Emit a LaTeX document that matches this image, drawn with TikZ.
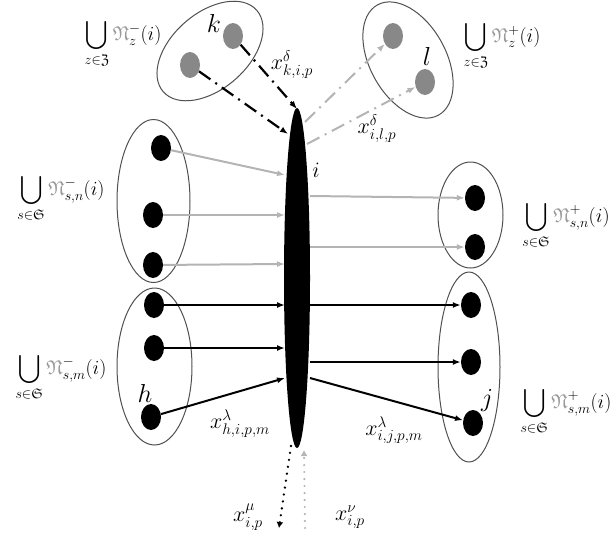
\RequirePackage{fix-cm}
\documentclass[tikz,border=0pt]{standalone}
\usepackage{amsmath,amssymb}
\usetikzlibrary{shapes.geometric,arrows.meta}
\definecolor{lgray}{HTML}{B4B4B4}
\definecolor{dotgray}{HTML}{888888}
\definecolor{ngray}{HTML}{9A9A9A}
\definecolor{rimgray}{HTML}{505050}
\newcommand{\Nfr}{\textcolor{ngray}{\mathfrak{N}}}
\begin{document}
\begin{tikzpicture}[x=1pt,y=-1pt,
  grp/.style={draw=rimgray,line width=1pt,ellipse,inner sep=0pt},
  bdot/.style={fill=black,ellipse,minimum width=20pt,minimum height=26pt,inner sep=0pt},
  gdot/.style={fill=dotgray,ellipse,minimum width=20pt,minimum height=26pt,inner sep=0pt},
  blk/.style={line width=2pt,-{Latex[length=8pt,width=6pt]}},
  gry/.style={line width=2pt,lgray,-{Latex[length=8pt,width=6pt]}},
  bdd/.style={line width=2.2pt,dash pattern=on 14pt off 6pt on 2pt off 6pt,-{Latex[length=8pt,width=6pt]}},
  gdd/.style={line width=2pt,lgray,dash pattern=on 14pt off 6pt on 2pt off 6pt,-{Latex[length=8pt,width=6pt]}},
  bdots/.style={line width=2.6pt,line cap=round,dash pattern=on 0pt off 7pt,-{Latex[length=6pt,width=7pt]}},
  gdots/.style={line width=2.4pt,lgray,line cap=round,dash pattern=on 0pt off 7pt,-{Latex[length=6pt,width=7pt]}},
  lab/.style={inner sep=0pt,font=\fontsize{26}{28}\selectfont},
  setl/.style={inner sep=0pt,font=\fontsize{20}{22}\selectfont},
  xl/.style={inner sep=0pt,font=\fontsize{22}{25}\selectfont}]
\useasboundingbox (0,0) rectangle (616,539);

% central node i
\node[fill=black,ellipse,minimum width=26pt,minimum height=340pt,inner sep=0pt] (i) at (297,278) {};

% groups
\node[grp,minimum width=124pt,minimum height=76pt,rotate=41] (K) at (210,51) {};
\node[grp,minimum width=126pt,minimum height=76pt,rotate=-61] (L) at (408,60) {};
\node[grp,minimum width=73pt,minimum height=163pt] (SNm) at (153.5,201) {};
\node[grp,minimum width=65pt,minimum height=106pt] (SNp) at (470.5,215) {};
\node[grp,minimum width=75pt,minimum height=157pt] (SMm) at (154.5,366.5) {};
\node[grp,minimum width=62pt,minimum height=190pt] (SMp) at (469,367) {};

% dots
\node[gdot] (k1) at (233,36) {};
\node[gdot] (k2) at (190,65) {};
\node[gdot] (l1) at (393,36) {};
\node[gdot] (l2) at (425,82) {};
\node[bdot] (a1) at (161,148) {};
\node[bdot] (a2) at (153,215) {};
\node[bdot] (a3) at (153,265) {};
\node[bdot] (b1) at (475,198) {};
\node[bdot] (b2) at (475,247) {};
\node[bdot] (c1) at (154,305) {};
\node[bdot] (c2) at (154,348) {};
\node[bdot] (c3) at (151,417) {};
\node[bdot] (d1) at (471,305) {};
\node[bdot] (d2) at (471,362) {};
\node[bdot] (d3) at (473,423) {};

% border points on i
\coordinate (iA1) at (285,175);
\coordinate (iA2) at (285,215);
\coordinate (iA3) at (285,264);
\coordinate (iB1) at (310,196);
\coordinate (iB2) at (310,247);
\coordinate (iC1) at (285,305);
\coordinate (iC2) at (285,348);
\coordinate (iC3) at (285,378);
\coordinate (iD1) at (310,305);
\coordinate (iD2) at (310,362);
\coordinate (iD3) at (310,378);
\coordinate (iK1) at (297,109);
\coordinate (iK2) at (288,134);
\coordinate (iL1) at (305,122);
\coordinate (iL2) at (307,144);
\coordinate (iMu) at (291,446);
\coordinate (muEnd) at (279,528);
\coordinate (iNu) at (304,450);
\coordinate (nuStart) at (305,528);

% connectors
\draw[gry] (a1) -- (iA1);
\draw[gry] (a2) -- (iA2);
\draw[gry] (a3) -- (iA3);
\draw[gry] (iB1) -- (b1);
\draw[gry] (iB2) -- (b2);
\draw[blk] (c1) -- (iC1);
\draw[blk] (c2) -- (iC2);
\draw[blk] (c3) -- (iC3);
\draw[blk] (iD1) -- (d1);
\draw[blk] (iD2) -- (d2);
\draw[blk] (iD3) -- (d3);
\draw[bdd] (k1) -- (iK1);
\draw[bdd] (k2) -- (iK2);
\draw[gdd] (iL1) -- (l1);
\draw[gdd] (iL2) -- (l2);
\draw[bdots] (iMu) -- (muEnd);
\draw[gdots] (nuStart) -- (iNu);

% node labels
\node[lab] (kl) at (214,23) {$k$};
\node[lab] (ll) at (427,56) {$l$};
\node[lab,font=\fontsize{22}{24}\selectfont] (il) at (316,170) {$i$};
\node[lab] (hl) at (145,393) {$h$};
\node[lab] (jl) at (487,400) {$j$};

% edge labels
\node[xl] (xki) at (292,65) {$x^{\delta}_{k,i,p}$};
\node[xl] (xil) at (377,129) {$x^{\delta}_{i,l,p}$};
\node[xl] (xhi) at (240,424) {$x^{\lambda}_{h,i,p,m}$};
\node[xl] (xij) at (394,430) {$x^{\lambda}_{i,j,p,m}$};
\node[xl] (xmu) at (248,517) {$x^{\mu}_{i,p}$};
\node[xl] (xnu) at (350,517) {$x^{\nu}_{i,p}$};

% set labels
\node[setl] (LZm) at (123,44) {$\displaystyle\bigcup_{z\in\mathfrak{Z}}\Nfr^{-}_{z}(i)$};
\node[setl] (LZp) at (502,46) {$\displaystyle\bigcup_{z\in\mathfrak{Z}}\Nfr^{+}_{z}(i)$};
\node[setl] (LSNm) at (61,198) {$\displaystyle\bigcup_{s\in\mathfrak{S}}\Nfr^{-}_{s,n}(i)$};
\node[setl] (LSNp) at (566,225) {$\displaystyle\bigcup_{s\in\mathfrak{S}}\Nfr^{+}_{s,n}(i)$};
\node[setl] (LSMm) at (61,377) {$\displaystyle\bigcup_{s\in\mathfrak{S}}\Nfr^{-}_{s,m}(i)$};
\node[setl] (LSMp) at (566,411) {$\displaystyle\bigcup_{s\in\mathfrak{S}}\Nfr^{+}_{s,m}(i)$};
\end{tikzpicture}
\end{document}
